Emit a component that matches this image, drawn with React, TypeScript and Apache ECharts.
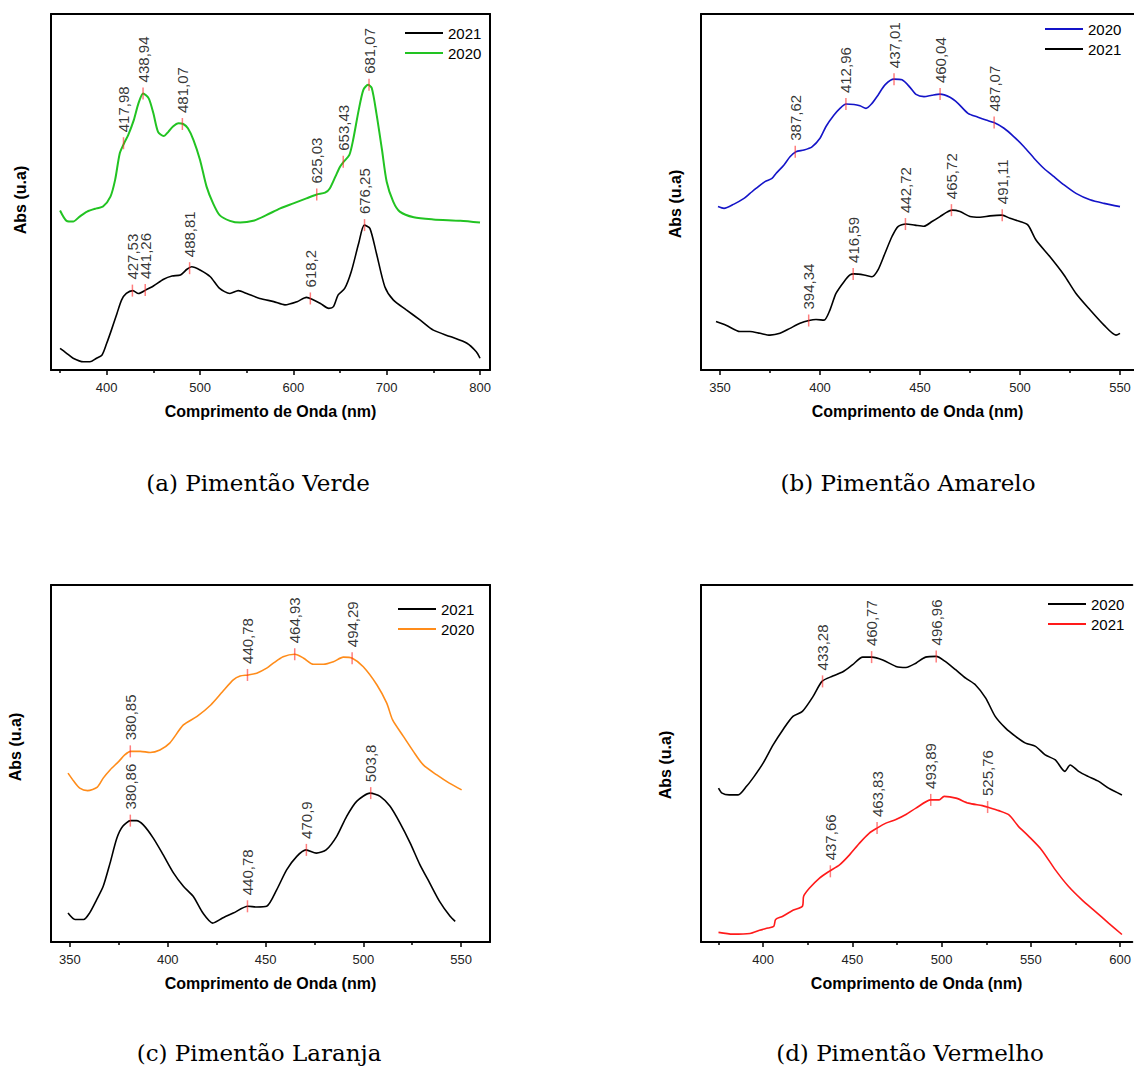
import React, { useEffect, useRef } from 'react';
import * as echarts from 'echarts';

// ---------- data (wavelength nm, absorbance a.u. on 0-100 scale) ----------
const verde2021: [number, number][] = [
  [350, 6.1], [357, 4.7], [364, 3.3], [375, 2.3], [382, 2.3], [389, 3.3], [395, 4.2], [400, 7.5], [405, 11.2],
  [411, 15.9], [416, 19.7], [421, 21.5], [428, 22.3], [434, 21.5], [442, 22.5], [450, 23.6], [461, 25.5],
  [470, 26.4], [479, 26.7], [486, 28.3], [491, 29.0], [500, 28.1], [511, 26.2], [521, 22.9], [532, 21.5],
  [541, 22.3], [550, 21.5], [564, 20.1], [579, 19.2], [591, 18.3], [604, 19.2], [614, 20.4], [620, 19.9],
  [629, 18.7], [638, 17.3], [643, 17.8], [648, 21.1], [655, 22.9], [662, 27.6], [670, 35.6], [676, 40.7],
  [682, 39.8], [689, 32.8], [698, 23.4], [707, 19.7], [721, 16.9], [736, 14.0], [750, 11.2], [768, 9.4],
  [786, 7.5], [796, 5.1], [800, 3.3],
];
const verde2020: [number, number][] = [
  [350, 44.8], [357, 41.9], [364, 41.7], [371, 43.1], [379, 44.5], [389, 45.4], [396, 45.9], [404, 48.7],
  [409, 53.4], [414, 60.9], [418.6, 63.7], [423, 66.0], [429, 70.2], [434, 74.9], [439, 77.7], [445, 76.3],
  [450, 72.1], [455, 66.9], [461, 65.7], [466, 66.9], [471, 68.4], [477, 69.3], [482, 69.1], [487, 67.9],
  [493, 64.6], [500, 59.0], [507, 51.5], [514, 46.8], [521, 43.5], [532, 41.9], [543, 41.4], [557, 41.9],
  [571, 43.5], [586, 45.4], [600, 46.8], [614, 48.2], [625, 49.3], [634, 49.8], [639, 51.0], [645, 54.3],
  [650, 57.1], [654, 58.5], [660, 60.4], [664, 64.6], [670, 73.0], [675, 78.7], [680, 80.1], [684, 79.2],
  [689, 72.1], [695, 61.8], [700, 52.9], [707, 47.3], [714, 44.5], [729, 42.9], [750, 42.3], [779, 41.9],
  [800, 41.4],
];
const amarelo2020: [number, number][] = [
  [349, 45.9], [352, 45.4], [357, 46.6], [362, 48.2], [365, 49.6], [368, 51.0], [372.5, 52.9], [376, 53.8],
  [378, 55.2], [382, 57.6], [385, 59.9], [388, 61.3], [392, 61.8], [396, 62.7], [400, 65.1], [403, 68.4],
  [407, 71.6], [410, 73.5], [413, 74.7], [417, 74.6], [420, 74.2], [423, 73.5], [426, 74.9], [429, 77.2],
  [432.5, 80.1], [437, 81.7], [441, 81.5], [445, 79.4], [448, 77.4], [452, 76.8], [456, 77.2], [460, 77.5],
  [465, 76.6], [469, 74.9], [474, 72.1], [479, 71.0], [483, 70.2], [487, 69.5], [492, 67.9], [497, 65.5],
  [502, 62.7], [507, 59.5], [512, 56.6], [517, 54.3], [522, 52.0], [528, 49.6], [535, 47.8], [542, 46.8],
  [550, 45.9],
];
const amarelo2021: [number, number][] = [
  [348, 13.6], [353, 12.6], [360, 10.8], [365, 10.8], [370, 10.3], [375, 9.8], [380, 10.3], [385, 11.7],
  [390, 13.1], [394.5, 13.9], [398, 14.2], [402, 14.0], [405, 16.9], [408, 21.5], [412, 24.8], [415, 26.7],
  [417, 27.0], [422, 26.7], [426, 26.2], [429, 28.1], [432.5, 32.8], [436, 37.5], [439, 40.3], [443, 41.0],
  [447.5, 40.7], [452, 40.4], [456, 41.7], [460, 43.1], [463, 44.2], [466, 44.9], [470, 44.5], [475, 43.1],
  [480, 42.9], [485, 43.3], [491, 43.5], [495, 42.6], [500, 41.7], [504, 40.7], [508, 36.5], [515, 31.8],
  [522, 26.7], [528, 21.5], [535, 16.9], [542, 12.6], [548, 9.8], [550, 10.3],
];
const laranja2021: [number, number][] = [
  [349, 8.1], [352.6, 6.3], [357, 6.3], [360, 8.1], [363.6, 11.8], [367, 15.6], [370.5, 22.1], [374, 29.1],
  [377, 32.4], [381, 34.0], [384, 34.0], [387.5, 32.8], [392.6, 29.1], [397.7, 24.4], [403, 19.3], [408, 15.6],
  [413, 12.8], [418, 8.1], [423, 5.3], [428, 6.7], [433.5, 8.1], [441, 10.0], [445.5, 9.8], [450.6, 10.0],
  [455.7, 14.6], [460.8, 20.2], [466, 24.0], [470.7, 25.8], [476, 24.9], [481, 25.8], [486.4, 29.6],
  [491.5, 35.2], [496.6, 39.4], [503.5, 41.7], [508.6, 40.8], [513.7, 38.0], [518.8, 33.3], [524, 27.7],
  [529, 21.6], [534, 16.5], [539, 11.4], [544.4, 7.2], [547, 5.8],
];
const laranja2020: [number, number][] = [
  [349, 47.3], [352, 45.0], [355, 43.1], [359, 42.4], [364, 43.4], [367, 45.9], [370.5, 48.2], [375, 50.6],
  [378, 52.4], [381, 53.4], [386, 53.4], [391, 53.1], [396, 53.8], [401, 55.7], [408, 60.8], [415, 63.2],
  [422, 66.4], [428, 70.1], [433.5, 73.4], [437, 74.5], [441, 74.8], [445.5, 75.3], [450.6, 76.7], [454, 78.1],
  [459, 79.9], [465, 80.6], [469.5, 79.5], [474.5, 77.8], [479.6, 77.8], [484.7, 78.5], [489.8, 79.8],
  [494.4, 79.5], [500, 77.1], [507, 72.0], [512, 66.9], [515, 62.2], [520.5, 57.6], [525.6, 53.4],
  [530.7, 49.6], [537.6, 46.8], [544, 44.5], [550.3, 42.6],
];
const vermelho2020: [number, number][] = [
  [375, 43.1], [377, 41.7], [381, 41.2], [386, 41.2], [390.7, 43.6], [395, 46.4], [400, 50.1], [405.6, 55.2],
  [411, 59.4], [416.7, 63.2], [422, 64.6], [428, 68.8], [433, 73.0], [439, 74.5], [444.7, 75.7], [450, 77.6],
  [455.8, 79.8], [461, 79.8], [467, 79.0], [474.4, 77.2], [480, 76.9], [485.6, 78.1], [491, 79.8], [497, 80.0],
  [502, 78.6], [508, 76.2], [513.5, 73.9], [519, 72.0], [524.7, 68.3], [530, 63.2], [535.8, 59.9], [541.4, 57.6],
  [547, 55.7], [552.6, 54.8], [558, 52.4], [563.7, 51.0], [569, 47.8], [572, 49.6], [576.7, 47.8], [582, 46.4],
  [588, 45.0], [593.5, 43.1], [601, 41.2],
];
const vermelho2021: [number, number][] = [
  [375, 2.7], [383, 2.2], [392.6, 2.4], [398, 3.3], [402.8, 3.9], [406, 4.4], [407, 6.3], [411, 7.2],
  [416.7, 8.9], [422, 10.0], [422.7, 12.8], [426, 15.1], [431.6, 17.9], [437, 19.8], [442.8, 21.6], [448.4, 24.4],
  [454, 27.7], [459.5, 30.5], [463.8, 31.9], [468.8, 33.3], [474.4, 34.3], [480, 35.7], [485.6, 37.5], [494, 39.8],
  [498.6, 39.8], [501.4, 40.8], [508, 40.3], [515, 38.9], [522.8, 38.2], [525.6, 37.8], [532, 36.8], [537.7, 35.6],
  [543, 32.4], [548.8, 29.6], [556, 25.8], [563.7, 20.2], [571, 15.6], [578.6, 11.8], [586, 8.6], [593.5, 5.3],
  [601, 2.1],
];

// peak marks (wavelength, absorbance at the mark)
const verde2020Peaks = [417.98, 438.94, 481.07, 625.03, 653.43, 681.07];
const verde2020PeakAbs = [63.7, 77.7, 69.1, 49.3, 58.5, 80.1];
const verde2021Peaks = [427.53, 441.26, 488.81, 618.2, 676.25];
const verde2021PeakAbs = [22.3, 22.5, 28.6, 20.1, 40.7];
const amarelo2020Peaks = [387.62, 412.96, 437.01, 460.04, 487.07];
const amarelo2020PeakAbs = [61.3, 74.7, 81.7, 77.5, 69.5];
const amarelo2021Peaks = [394.34, 416.59, 442.72, 465.72, 491.11];
const amarelo2021PeakAbs = [13.9, 27.0, 41.0, 44.9, 43.5];
const laranja2020Peaks = [380.85, 440.78, 464.93, 494.29];
const laranja2020PeakAbs = [53.4, 74.8, 80.6, 79.5];
const laranja2021Peaks = [380.86, 440.78, 470.9, 503.8];
const laranja2021PeakAbs = [34.0, 10.0, 25.8, 41.7];
const vermelho2020Peaks = [433.28, 460.77, 496.96];
const vermelho2020PeakAbs = [73.0, 79.8, 80.0];
const vermelho2021Peaks = [437.66, 463.83, 493.89, 525.76];
const vermelho2021PeakAbs = [19.8, 31.9, 39.8, 37.8];

// tick values
const ticksA = [400, 500, 600, 700, 800];
const minorA = [350, 450, 550, 650, 750];
const ticksB = [350, 400, 450, 500, 550];
const minorB = [375, 425, 475, 525];
const ticksC = [350, 400, 450, 500, 550];
const minorC = [375, 425, 475, 525];
const ticksD = [400, 450, 500, 550, 600];
const minorD = [375, 425, 475, 525, 575];

const subtitles = ['(a) Pimentão Verde', '(b) Pimentão Amarelo', '(c) Pimentão Laranja', '(d) Pimentão Vermelho'];
const X_TITLE = 'Comprimento de Onda (nm)';
const Y_TITLE = 'Abs (u.a)';

// ---------- layout ----------
const SANS = "'Liberation Sans', Arial, Helvetica, sans-serif";
const SERIF = "'DejaVu Serif', 'Liberation Serif', serif";

type Curve = { name: string; color: string; width: number; data: [number, number][]; peaks: number[]; peakAbs: number[] };
type Panel = {
  key: string; left: number; top: number; width: number; height: number; xMin: number; xMax: number;
  major: number[]; minor: number[]; rightBorder: boolean; legendLeft: number; legendRow: number;
  curves: Curve[]; yTitleX: number; yTitleY: number; subX: number; subY: number; subtitle: string;
};

const panels: Panel[] = [
  {
    key: 'a', left: 51, top: 14, width: 439, height: 356, xMin: 340.3, xMax: 810.7, major: ticksA, minor: minorA,
    rightBorder: true, legendLeft: 405, legendRow: 34, yTitleX: 20, yTitleY: 200, subX: 258, subY: 483, subtitle: subtitles[0],
    curves: [
      { name: '2021', color: '#000000', width: 1.6, data: verde2021, peaks: verde2021Peaks, peakAbs: verde2021PeakAbs },
      { name: '2020', color: '#22c322', width: 2, data: verde2020, peaks: verde2020Peaks, peakAbs: verde2020PeakAbs },
    ],
  },
  {
    key: 'b', left: 701, top: 14, width: 433, height: 356, xMin: 340.5, xMax: 557, major: ticksB, minor: minorB,
    rightBorder: false, legendLeft: 1045, legendRow: 30, yTitleX: 675, yTitleY: 204, subX: 908, subY: 483, subtitle: subtitles[1],
    curves: [
      { name: '2020', color: '#1414c8', width: 1.6, data: amarelo2020, peaks: amarelo2020Peaks, peakAbs: amarelo2020PeakAbs },
      { name: '2021', color: '#000000', width: 1.6, data: amarelo2021, peaks: amarelo2021Peaks, peakAbs: amarelo2021PeakAbs },
    ],
  },
  {
    key: 'c', left: 51, top: 585, width: 439, height: 357, xMin: 340.3, xMax: 564.8, major: ticksC, minor: minorC,
    rightBorder: true, legendLeft: 398, legendRow: 610, yTitleX: 15, yTitleY: 747, subX: 259, subY: 1053, subtitle: subtitles[2],
    curves: [
      { name: '2021', color: '#000000', width: 1.6, data: laranja2021, peaks: laranja2021Peaks, peakAbs: laranja2021PeakAbs },
      { name: '2020', color: '#ff8c1a', width: 1.6, data: laranja2020, peaks: laranja2020Peaks, peakAbs: laranja2020PeakAbs },
    ],
  },
  {
    key: 'd', left: 701, top: 585, width: 433, height: 357, xMin: 365.2, xMax: 606.8, major: ticksD, minor: minorD,
    rightBorder: false, legendLeft: 1048, legendRow: 605, yTitleX: 665, yTitleY: 765, subX: 910, subY: 1053, subtitle: subtitles[3],
    curves: [
      { name: '2020', color: '#000000', width: 1.6, data: vermelho2020, peaks: vermelho2020Peaks, peakAbs: vermelho2020PeakAbs },
      { name: '2021', color: '#ff1a1a', width: 1.6, data: vermelho2021, peaks: vermelho2021Peaks, peakAbs: vermelho2021PeakAbs },
    ],
  },
];

const fmt = (v: number) => String(v).replace('.', ',');
const border = { color: '#000', width: 2 };

function buildOption() {
  const grid: any[] = [];
  const xAxis: any[] = [];
  const yAxis: any[] = [];
  const series: any[] = [];
  const legend: any[] = [];
  const graphic: any[] = [];

  panels.forEach((p, i) => {
    grid.push({ left: p.left, top: p.top, width: p.width, height: p.height, containLabel: false });
    xAxis.push({
      type: 'value', gridIndex: i, min: p.xMin, max: p.xMax, position: 'bottom',
      axisLine: { show: true, onZero: false, lineStyle: border },
      axisTick: { show: true, length: 5, customValues: p.major, lineStyle: { color: '#000', width: 1.5 } },
      axisLabel: { show: true, customValues: p.major, margin: 11, fontSize: 13, color: '#222', fontFamily: SANS },
      splitLine: { show: false },
      name: X_TITLE, nameLocation: 'middle', nameGap: 33,
      nameTextStyle: { fontWeight: 'bold', fontSize: 16, color: '#000', fontFamily: SANS },
    });
    xAxis.push({
      type: 'value', gridIndex: i, min: p.xMin, max: p.xMax, position: 'bottom',
      axisLine: { show: false, onZero: false },
      axisTick: { show: true, length: 3, customValues: p.minor, lineStyle: { color: '#000', width: 1.5 } },
      axisLabel: { show: false }, splitLine: { show: false },
    });
    xAxis.push({
      type: 'value', gridIndex: i, min: p.xMin, max: p.xMax, position: 'top',
      axisLine: { show: true, onZero: false, lineStyle: border },
      axisTick: { show: false }, axisLabel: { show: false }, splitLine: { show: false },
    });
    yAxis.push({
      type: 'value', gridIndex: i, min: 0, max: 100, position: 'left',
      axisLine: { show: true, onZero: false, lineStyle: border },
      axisTick: { show: false }, axisLabel: { show: false }, splitLine: { show: false },
    });
    yAxis.push({
      type: 'value', gridIndex: i, min: 0, max: 100, position: 'right',
      axisLine: { show: p.rightBorder, onZero: false, lineStyle: border },
      axisTick: { show: false }, axisLabel: { show: false }, splitLine: { show: false },
    });

    p.curves.forEach((c) => {
      series.push({
        type: 'line', name: `${p.key}:${c.name}`, xAxisIndex: i * 3, yAxisIndex: i * 2,
        data: c.data, symbol: 'none', showSymbol: false, smooth: 0.25,
        lineStyle: { color: c.color, width: c.width }, itemStyle: { color: c.color }, z: 2,
      });
      series.push({
        type: 'scatter', name: `${p.key}:${c.name}:picos`, xAxisIndex: i * 3, yAxisIndex: i * 2,
        data: c.peaks.map((x, j) => ({ value: [x, c.peakAbs[j]], name: fmt(x) })),
        symbol: 'rect', symbolSize: [1.5, 12], silent: true,
        itemStyle: { color: 'rgba(255,40,40,0.75)' },
        label: {
          show: true, formatter: '{b}', position: 'top', distance: 5, rotate: 90,
          align: 'left', verticalAlign: 'middle', fontSize: 15, color: '#000', fontFamily: SANS,
        },
        labelLayout: { hideOverlap: false }, z: 3,
      });
    });

    legend.push({
      data: p.curves.map((c) => ({ name: `${p.key}:${c.name}`, icon: 'rect', itemStyle: { color: c.color } })),
      formatter: (n: string) => n.split(':')[1],
      orient: 'vertical', left: p.legendLeft, top: p.legendRow - 10, padding: 0,
      itemWidth: 38, itemHeight: 2, itemGap: 2, selectedMode: false,
      textStyle: { fontSize: 15, color: '#000', fontFamily: SANS, lineHeight: 18 },
    });

    graphic.push({
      type: 'text', x: p.yTitleX, y: p.yTitleY, rotation: Math.PI / 2,
      style: { text: Y_TITLE, fontSize: 16, fontWeight: 'bold', fontFamily: SANS, fill: '#000', align: 'center', verticalAlign: 'middle' },
    });
    graphic.push({
      type: 'text', x: p.subX, y: p.subY,
      style: { text: p.subtitle, fontSize: 23, fontFamily: SERIF, fill: '#000', align: 'center', verticalAlign: 'middle' },
    });
  });

  return { animation: false, backgroundColor: '#fff', grid, xAxis, yAxis, series, legend, graphic };
}

export default function App() {
  const ref = useRef<HTMLDivElement>(null);
  useEffect(() => {
    if (!ref.current) return;
    const chart = echarts.init(ref.current, undefined, { renderer: 'svg' });
    chart.setOption(buildOption() as any);
    return () => chart.dispose();
  }, []);
  return <div ref={ref} style={{ position: 'absolute', left: 0, top: 0, width: 1134, height: 1068, background: '#fff' }} />;
}
